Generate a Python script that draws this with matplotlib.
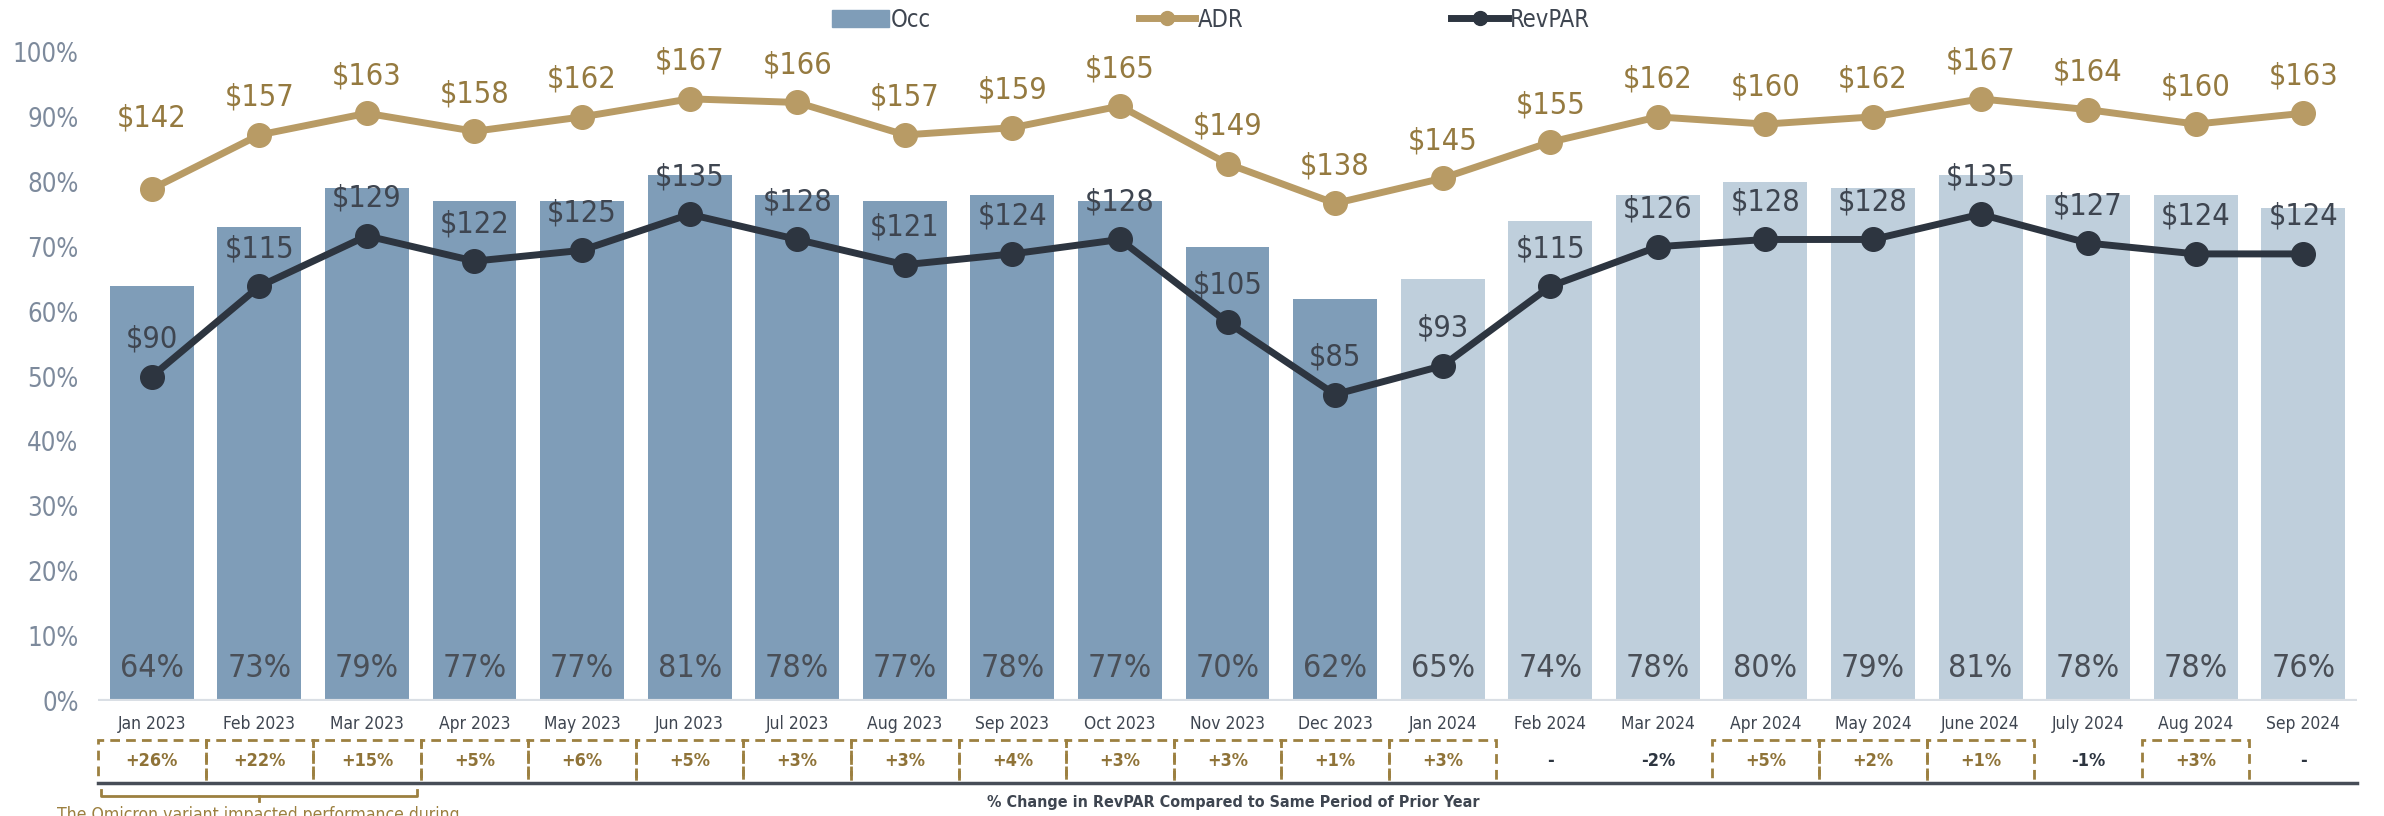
import matplotlib
matplotlib.use("Agg")
import matplotlib.pyplot as plt
import matplotlib.transforms as mtransforms
from matplotlib.patches import Rectangle, Patch
from matplotlib.lines import Line2D
import numpy as np

plt.rcParams['font.family'] = ['DejaVu Sans']
plt.rcParams['font.stretch'] = 'condensed'

#Monthly hotel performance
months = ["Jan 2023", "Feb 2023", "Mar 2023", "Apr 2023", "May 2023", "Jun 2023", "Jul 2023",
          "Aug 2023", "Sep 2023", "Oct 2023", "Nov 2023", "Dec 2023", "Jan 2024", "Feb 2024",
          "Mar 2024", "Apr 2024", "May 2024", "June 2024", "July 2024", "Aug 2024", "Sep 2024"]
occ = [64, 73, 79, 77, 77, 81, 78, 77, 78, 77, 70, 62, 65, 74, 78, 80, 79, 81, 78, 78, 76]
adr = [142, 157, 163, 158, 162, 167, 166, 157, 159, 165, 149, 138, 145, 155, 162, 160, 162, 167, 164, 160, 163]
revpar = [90, 115, 129, 122, 125, 135, 128, 121, 124, 128, 105, 85, 93, 115, 126, 128, 128, 135, 127, 124, 124]
revpar_change = ["+26%", "+22%", "+15%", "+5%", "+6%", "+5%", "+3%", "+3%", "+4%", "+3%", "+3%", "+1%",
                 "+3%", "-", "-2%", "+5%", "+2%", "+1%", "-1%", "+3%", "-"]
note = "The Omicron variant impacted performance during"

#colors
occ_dark = "#7F9DB8"
occ_light = "#BFCFDC"
gold_line = "#B89B65"
gold_text = "#957A40"
navy_line = "#2D3540"
navy_text = "#3E4550"

x = np.arange(len(months))
bar_colors = [occ_dark if m.endswith("2023") else occ_light for m in months]

fig = plt.figure(figsize=(23.84, 8.16), dpi=100)
ax = fig.add_axes([0.0411, 0.1409, 0.9476, 0.7954])

ax.bar(x, np.array(occ) / 100, width=0.78, color=bar_colors, zorder=2)
ax.set_xlim(-0.5, len(months) - 0.5)
ax.set_ylim(0, 1)
ax.set_yticks(np.arange(0, 1.01, 0.1))
ax.set_yticklabels([f"{int(round(v*100))}%" for v in np.arange(0, 1.01, 0.1)])
ax.tick_params(axis='y', length=0, pad=14, labelsize=18.5, labelcolor="#7D8A9C")
ax.set_xticks(x)
ax.set_xticklabels(months)
ax.tick_params(axis='x', length=0, pad=10, labelsize=12.5, labelcolor=navy_text)
for spine in ax.spines.values():
    spine.set_visible(False)
ax.axhline(0, color="#DADFE5", lw=3, zorder=3)

#occupancy labels at the foot of each bar
for i, v in enumerate(occ):
    ax.text(i, 0.05, f"{v}%", ha='center', va='center', fontsize=23, color="#4A4F57", zorder=4)

#ADR / RevPAR on hidden secondary axis
ax2 = ax.twinx()
ax2.set_ylim(0, 180)
ax2.set_yticks([])
for spine in ax2.spines.values():
    spine.set_visible(False)
ax2.plot(x, adr, color=gold_line, lw=5, marker='o', markersize=17, zorder=5)
ax2.plot(x, revpar, color=navy_line, lw=5, marker='o', markersize=17, zorder=5)
for i, v in enumerate(adr):
    off = 51 if i == 0 else 27
    ax2.annotate(f"${v}", (i, v), xytext=(0, off), textcoords='offset points',
                 ha='center', va='center', fontsize=22, color=gold_text)
for i, v in enumerate(revpar):
    ax2.annotate(f"${v}", (i, v), xytext=(0, 27), textcoords='offset points',
                 ha='center', va='center', fontsize=22, color=navy_text)

#% change row under the axis
trans = mtransforms.blended_transform_factory(ax.transData, ax.transAxes)
box_top, box_bot = -0.060, -0.126
for i, c in enumerate(revpar_change):
    if c.startswith("+"):
        ax.add_patch(Rectangle((i - 0.5, box_bot), 1, box_top - box_bot, transform=trans,
                               fill=False, edgecolor="#9C8040", lw=2, linestyle=(0, (3.5, 2.2)),
                               clip_on=False, zorder=3))
        col = "#8F7338"
    else:
        col = navy_line
    ax.text(i, (box_top + box_bot) / 2, c, transform=trans, ha='center', va='center',
            fontsize=13, fontweight='bold', color=col, clip_on=False)
ax.plot([-0.5, len(months) - 0.5], [box_bot, box_bot], transform=trans, color="#474D57",
        lw=2.5, clip_on=False, zorder=4)
ax.text((len(months) - 1) / 2 + 0.05, -0.157, "% Change in RevPAR Compared to Same Period of Prior Year",
        transform=trans, ha='center', va='center', fontsize=11.5, fontweight='bold', color=navy_text)

#bracket + note for the Omicron months
ax.plot([-0.47, -0.47, 2.47, 2.47], [-0.137, -0.146, -0.146, -0.137], transform=trans,
        color="#9C8040", lw=2, clip_on=False)
ax.plot([1, 1], [-0.146, -0.154], transform=trans, color="#9C8040", lw=2, clip_on=False)
fig.text(0.024, -0.005, note, ha='left', va='baseline', fontsize=12.6, color="#9C8040")

#legend
handles = [Patch(color=occ_dark),
           Line2D([], [], color=gold_line, lw=5, marker='o', markersize=10),
           Line2D([], [], color=navy_line, lw=5, marker='o', markersize=10)]
fig.legend(handles, ["Occ", "ADR", "RevPAR"], loc='center', bbox_to_anchor=(0.508, 0.976),
           ncol=3, frameon=False, fontsize=17, handlelength=2.4, handletextpad=0.1,
           columnspacing=8.8, labelcolor=navy_text)

plt.savefig("out.png", dpi=100)
